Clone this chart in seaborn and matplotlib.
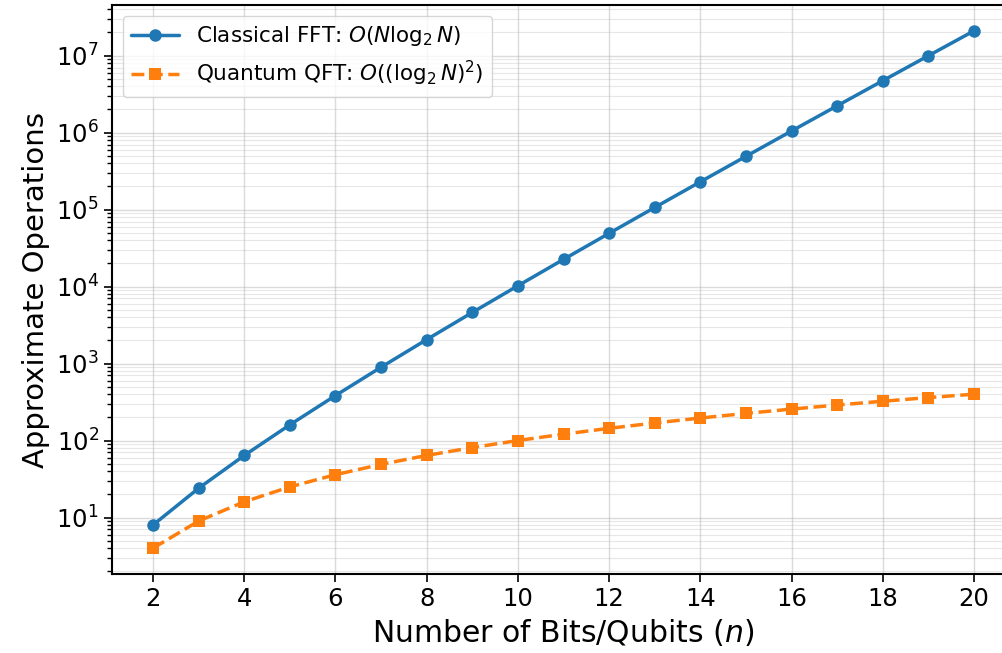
import matplotlib
matplotlib.use("Agg")
import matplotlib.pyplot as plt
import seaborn as sns
import pandas as pd

n_values = [2, 3, 4, 5, 6, 7, 8, 9, 10, 11, 12, 13, 14, 15, 16, 17, 18, 19, 20]
classical_ops = [8, 24, 64, 160, 384, 896, 2048, 4608, 10240, 22528, 49152,
                 106496, 229376, 491520, 1048576, 2228224, 4718592, 9961472, 20971520]
quantum_ops = [4, 9, 16, 25, 36, 49, 64, 81, 100, 121, 144, 169, 196, 225,
               256, 289, 324, 361, 400]
label_classical = r"Classical FFT: $O(N \log_2 N)$"
label_quantum = r"Quantum QFT: $O((\log_2 N)^2)$"

sns.set_style("ticks")
plt.rcParams['font.family'] = ['DejaVu Sans']
plt.rcParams['text.color'] = 'black'
plt.rcParams['axes.labelcolor'] = 'black'
plt.rcParams['xtick.color'] = 'black'
plt.rcParams['ytick.color'] = 'black'

fig = plt.figure(figsize=(10.02, 6.53), dpi=100)
ax = fig.add_axes([112/1002, 79/653, (1015-112)/1002, (574-5)/653])

df_c = pd.DataFrame({"n": n_values, "ops": classical_ops})
df_q = pd.DataFrame({"n": n_values, "ops": quantum_ops})

sns.lineplot(data=df_c, x="n", y="ops", ax=ax, color="#1f77b4", marker="o",
             markersize=9, linewidth=2.5, markeredgewidth=0, label=label_classical)
sns.lineplot(data=df_q, x="n", y="ops", ax=ax, color="#ff7f0e", marker="s",
             markersize=8, linewidth=2.5, markeredgewidth=0, linestyle="--",
             label=label_quantum)

ax.set_yscale("log")
ax.set_xlim(1.1, 20.9)
ax.set_xticks([2, 4, 6, 8, 10, 12, 14, 16, 18, 20])
ax.tick_params(axis="both", labelsize=17.5, width=1.2, length=6, colors="black")
ax.tick_params(axis="y", which="minor", length=3.5, width=1.0)
ax.grid(True, which="major", color="#b0b0b0", alpha=0.45, linewidth=1.0)
ax.grid(True, which="minor", axis="y", color="#b0b0b0", alpha=0.3, linewidth=0.8)
ax.set_xlabel(r"Number of Bits/Qubits ($n$)", fontsize=21.5, labelpad=4)
ax.set_ylabel("Approximate Operations", fontsize=21)
ax.spines["right"].set_visible(False)
for s in ax.spines.values():
    s.set_linewidth(1.5)
    s.set_color("black")

leg = ax.legend(loc="upper left", fontsize=15.5, frameon=True, handlelength=2.2)
leg.get_frame().set_edgecolor("#cccccc")

fig.savefig("out.png", dpi=100)
